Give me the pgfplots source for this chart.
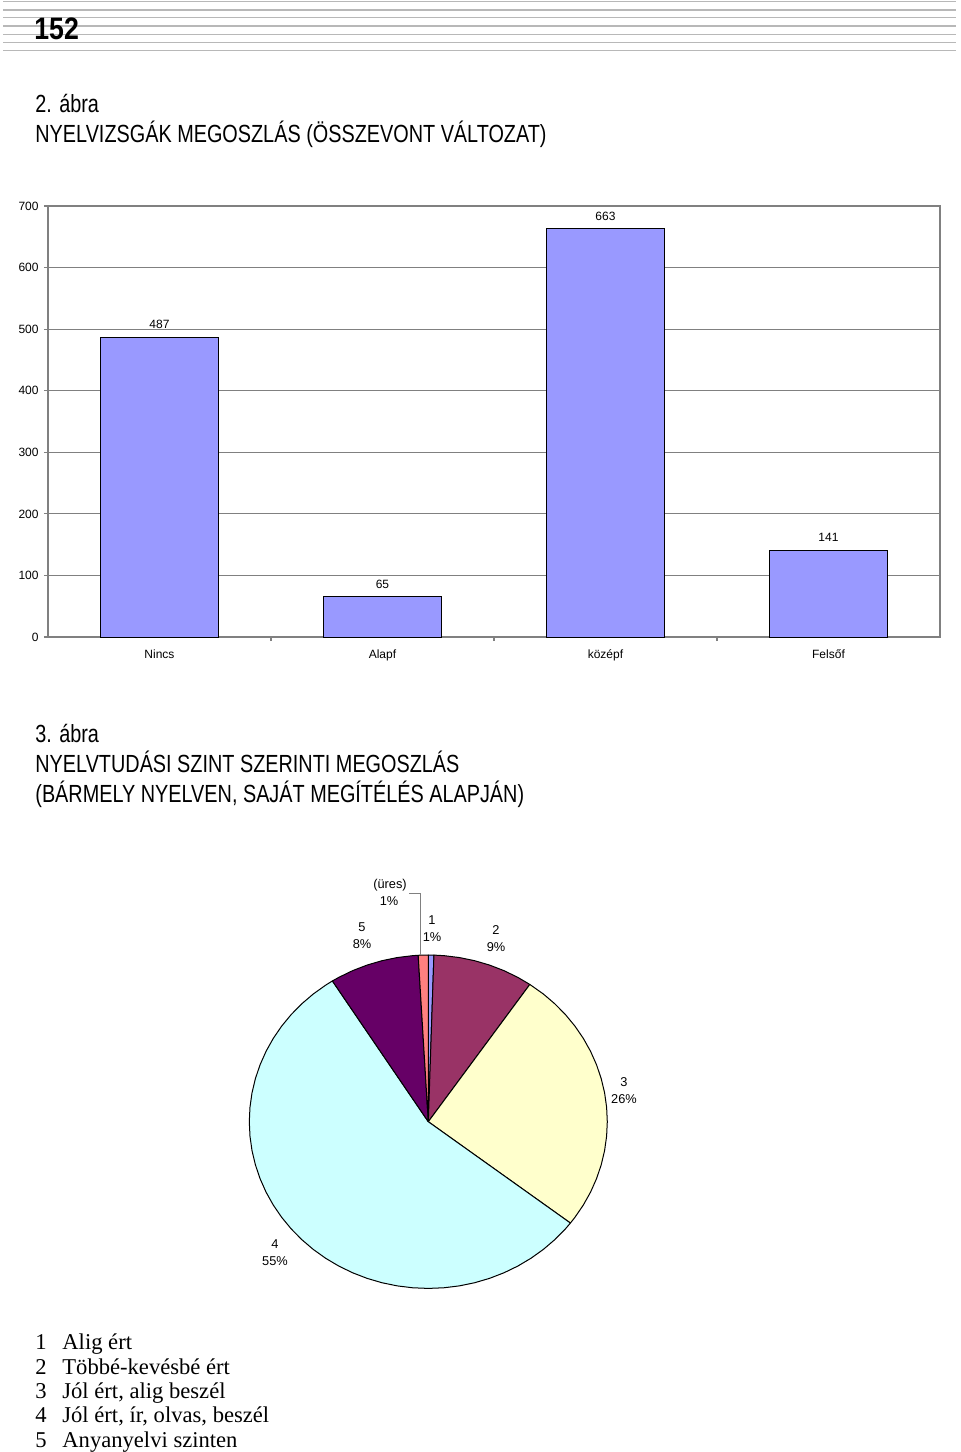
\documentclass[border=0pt]{standalone}
\usepackage{pgfplots}
\pgfplotsset{compat=1.18}
\usepackage{fontspec}
\setmainfont{Liberation Sans}
\newfontfamily\condfont[FakeStretch=0.80]{Liberation Sans}
\newfontfamily\numfont[FakeStretch=0.86]{Liberation Sans}
\newfontfamily\serfont{Liberation Serif}
\definecolor{barblue}{HTML}{9999FF}
\definecolor{pie1}{HTML}{9999FF}
\definecolor{pie2}{HTML}{993366}
\definecolor{pie3}{HTML}{FFFFCC}
\definecolor{pie4}{HTML}{CCFFFF}
\definecolor{pie5}{HTML}{660066}
\definecolor{pie6}{HTML}{FF8080}
\begin{document}
\begin{tikzpicture}[x=0.5pt,y=-0.5pt]
\path[use as bounding box] (0,0) rectangle (960,1452);
% header stripes
\foreach \yy in {1.7,10,17.7,26,34.3,42.3,50.3}
  \draw[line width=0.7pt, color=black!28] (3,\yy) -- (956,\yy);
\node[anchor=base west, inner sep=0, font=\numfont\bfseries\fontsize{15.5}{15.5}\selectfont] at (34,39) {152};
% titles
\node[anchor=base west, inner sep=0, font=\condfont\fontsize{12.4}{12.4}\selectfont] at (35,112) {2. ábra};
\node[anchor=base west, inner sep=0, font=\condfont\fontsize{12.4}{12.4}\selectfont] at (35,142) {NYELVIZSGÁK MEGOSZLÁS (ÖSSZEVONT VÁLTOZAT)};
\node[anchor=base west, inner sep=0, font=\condfont\fontsize{12.4}{12.4}\selectfont] at (35,742) {3. ábra};
\node[anchor=base west, inner sep=0, font=\condfont\fontsize{12.4}{12.4}\selectfont] at (35,772) {NYELVTUDÁSI SZINT SZERINTI MEGOSZLÁS};
\node[anchor=base west, inner sep=0, font=\condfont\fontsize{12.4}{12.4}\selectfont] at (35,802) {(BÁRMELY NYELVEN, SAJÁT MEGÍTÉLÉS ALAPJÁN)};
% bar chart
\coordinate (barSW) at (48,637);
\begin{axis}[
  at={(barSW)}, anchor=south west, scale only axis,
  width=446pt, height=215.5pt,
  xmin=-0.5, xmax=3.5, ymin=0, ymax=700,
  ytick={0,100,...,700}, ymajorgrids,
  grid style={draw=black!50, line width=0.6pt},
  axis line style={draw=black!50, line width=0.6pt},
  tick style={draw=black!50, line width=0.6pt},
  tick align=outside, major tick length=2pt,
  xtick={0.5,1.5,2.5}, xticklabels={},
  extra x ticks={0,1,2,3},
  extra x tick labels={Nincs,Alapf,középf,Felsőf},
  extra x tick style={major tick length=0pt, xticklabel style={yshift=-3pt}},
  xtick pos=bottom, ytick pos=left,
  ticklabel style={font=\fontsize{6}{7}\selectfont},
  yticklabel style={xshift=0.8pt},
  /pgf/number format/assume math mode=true,
  ybar, bar width=0.525,
  nodes near coords,
  every node near coord/.append style={font=\fontsize{6}{7}\selectfont, yshift=0.6pt},
]
\addplot[draw=black, fill=barblue, line width=0.5pt] coordinates {(0,487) (1,65) (2,663) (3,141)};
\end{axis}
% pie chart (angle in degrees, radius)
\coordinate (pieC) at (428.3,1121.7);
\begin{axis}[
  at={(pieC)}, anchor=center, scale only axis,
  width=179pt, height=166.7pt,
  xmin=-1, xmax=1, ymin=-1, ymax=1,
  hide axis, clip=false, data cs=polar,
]
% 1  (0.5%)
\addplot[draw=black, fill=pie1, line width=0.5pt, line join=round] coordinates {(0,0) (90,1) (88.2,1) (0,0)};
% 2  (9.1%)
\addplot[draw=black, fill=pie2, line width=0.5pt, line join=round] coordinates {(0,0) (88.2,1) (85,1) (80,1) (75,1) (70,1) (65,1) (60,1) (55.44,1) (0,0)};
% 3  (25.8%)
\addplot[draw=black, fill=pie3, line width=0.5pt, line join=round] coordinates {(0,0) (55.44,1) (50,1) (45,1) (40,1) (35,1) (30,1) (25,1) (20,1) (15,1) (10,1) (5,1) (0,1) (-5,1) (-10,1) (-15,1) (-20,1) (-25,1) (-30,1) (-35,1) (-37.44,1) (0,0)};
% 4  (55.6%)
\addplot[draw=black, fill=pie4, line width=0.5pt, line join=round] coordinates {(0,0) (-37.44,1) (-40,1) (-45,1) (-50,1) (-55,1) (-60,1) (-65,1) (-70,1) (-75,1) (-80,1) (-85,1) (-90,1) (-95,1) (-100,1) (-105,1) (-110,1) (-115,1) (-120,1) (-125,1) (-130,1) (-135,1) (-140,1) (-145,1) (-150,1) (-155,1) (-160,1) (-165,1) (-170,1) (-175,1) (-180,1) (-185,1) (-190,1) (-195,1) (-200,1) (-205,1) (-210,1) (-215,1) (-220,1) (-225,1) (-230,1) (-235,1) (-237.6,1) (0,0)};
% 5  (8.1%)
\addplot[draw=black, fill=pie5, line width=0.5pt, line join=round] coordinates {(0,0) (-237.6,1) (-240,1) (-245,1) (-250,1) (-255,1) (-260,1) (-265,1) (-266.76,1) (0,0)};
% (üres)  (0.9%)
\addplot[draw=black, fill=pie6, line width=0.5pt, line join=round] coordinates {(0,0) (-266.76,1) (-268.5,1) (-270,1) (0,0)};
\end{axis}
% pie labels
\begin{scope}[every node/.style={font=\fontsize{6.4}{7}\selectfont, inner sep=0}]
\node at (390,885) {(üres)};
\node at (389,901) {1\%};
\node at (362,927) {5};
\node at (362,944) {8\%};
\node at (432,920) {1};
\node at (432,937) {1\%};
\node at (496,930) {2};
\node at (496,947) {9\%};
\node at (624,1082) {3};
\node at (624,1099) {26\%};
\node at (275,1244) {4};
\node at (275,1261) {55\%};
\end{scope}
\draw[black!50, line width=0.5pt] (409,893) -- (420,893) -- (420,955);
% legend list
\begin{scope}[every node/.style={font=\serfont\fontsize{11.3}{12}\selectfont, inner sep=0, anchor=base west}]
\node at (35,1349) {1};  \node at (62,1349) {Alig ért};
\node at (35,1374) {2};  \node at (62,1374) {Többé-kevésbé ért};
\node at (35,1398) {3};  \node at (62,1398) {Jól ért, alig beszél};
\node at (35,1422) {4};  \node at (62,1422) {Jól ért, ír, olvas, beszél};
\node at (35,1447) {5};  \node at (62,1447) {Anyanyelvi szinten};
\end{scope}
\end{tikzpicture}
\end{document}
